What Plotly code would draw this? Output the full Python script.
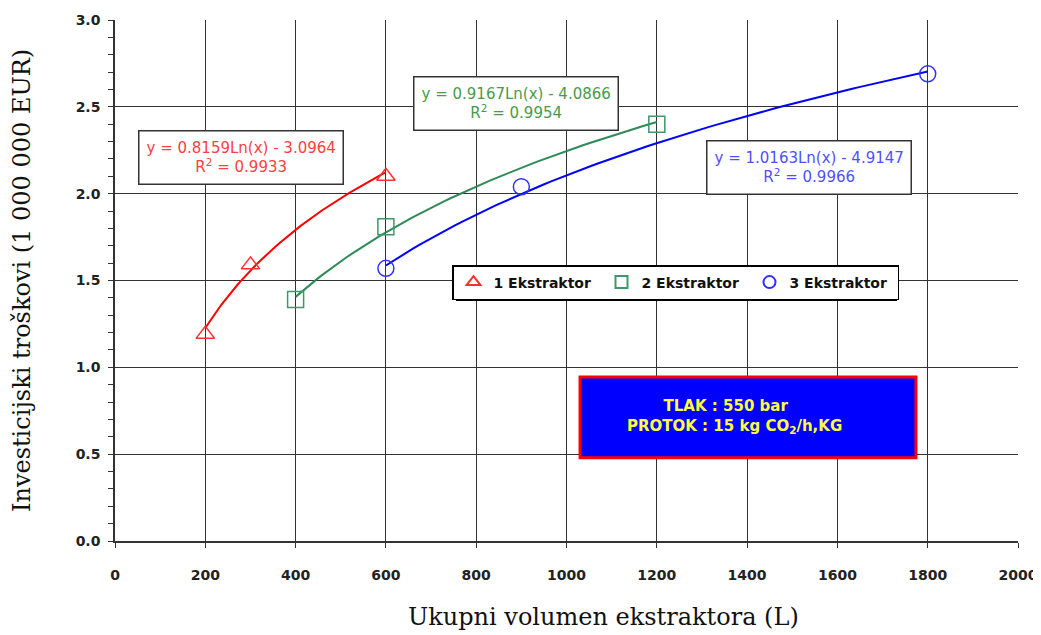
import numpy as np
import plotly.graph_objects as go

# Data
series_names = ["1 Ekstraktor", "2 Ekstraktor", "3 Ekstraktor"]
x1 = [200, 300, 600]
y1 = [1.19, 1.59, 2.10]
x2 = [400, 600, 1200]
y2 = [1.39, 1.81, 2.40]
x3 = [600, 900, 1800]
y3 = [1.57, 2.04, 2.69]

# Logarithmic trendline coefficients (from the chart equations)
trend_a = [0.8159, 0.9167, 1.0163]
trend_b = [-3.0964, -4.0866, -4.9147]
trend_r2 = [0.9933, 0.9954, 0.9966]

x_ticks = [0, 200, 400, 600, 800, 1000, 1200, 1400, 1600, 1800, 2000]
y_ticks = [0.0, 0.5, 1.0, 1.5, 2.0, 2.5, 3.0]

x_title = "Ukupni volumen ekstraktora (L)"
y_title = "Investicijski troškovi (1 000 000 EUR)"

line_colors = ["#ff0000", "#2e8b57", "#0000ff"]
marker_colors = ["#ff3030", "#3a9a6a", "#3030ff"]
text_colors = ["#ff4040", "#4a9a4a", "#5050ff"]
symbols = ["triangle-up-open", "square-open", "circle-open"]

xs = [x1, x2, x3]
ys = [y1, y2, y3]

# page has an 8px body margin; figure is sized so the plot lands where the reference has it
W, H = 1033, 627
L, R, T, B = 107, 23, 12, 94
PW, PH = W - L - R, H - T - B
OFF = 8

def px_to_paper(px, py):
    return (px - OFF - L) / PW, (H - B - (py - OFF)) / PH

fig = go.Figure()

for i in range(3):
    xt = np.linspace(min(xs[i]), max(xs[i]), 80)
    yt = trend_a[i] * np.log(xt) + trend_b[i]
    fig.add_trace(go.Scatter(x=xt, y=yt, mode="lines",
                             line=dict(color=line_colors[i], width=2),
                             showlegend=False, hoverinfo="skip"))

for i in range(3):
    fig.add_trace(go.Scatter(x=xs[i], y=ys[i], mode="markers", name=series_names[i],
                             marker=dict(symbol=symbols[i], size=16, color=marker_colors[i],
                                         line=dict(width=1.5, color=marker_colors[i]))))

def eq_text(a, b, r2):
    return f"y = {a:.4f}Ln(x) - {abs(b):.4f}<br>R<sup>2</sup> = {r2:.4f}"

eq_pos = [(278, 2.21), (889, 2.52), (1536, 2.15)]
for i in range(3):
    fig.add_annotation(x=eq_pos[i][0], y=eq_pos[i][1], xref="x", yref="y",
                       text=eq_text(trend_a[i], trend_b[i], trend_r2[i]),
                       showarrow=False, align="center",
                       font=dict(family="DejaVu Sans", size=15, color=text_colors[i]),
                       bgcolor="white", bordercolor="#333333", borderwidth=1.5, borderpad=7)

# Blue info box
fig.add_shape(type="rect", xref="x", yref="y", x0=1030, x1=1774, y0=0.48, y1=0.945,
              fillcolor="#0000ff", line=dict(color="#ff0000", width=3), layer="above")
fig.add_annotation(x=1373, y=0.715, xref="x", yref="y", showarrow=False, align="left",
                   text="       TLAK : 550 bar<br>PROTOK : 15 kg CO<sub>2</sub>/h,KG",
                   font=dict(family="DejaVu Sans", size=15, color="#ffff40", weight="bold"))

# Legend and its shadow (page pixels)
lx0, ly0, lx1, ly1 = 452, 265, 893, 297
sx0, sy0 = px_to_paper(lx0 + 4, ly1 + 4)
sx1, sy1 = px_to_paper(lx1 + 4, ly0 + 4)
fig.add_shape(type="rect", xref="paper", yref="paper", x0=sx0, x1=sx1, y0=sy0, y1=sy1,
              fillcolor="#000000", line=dict(width=0), layer="above")
legx, legy = px_to_paper(lx0, ly0)

# x-axis title (off-centre in the reference)
tx, ty = px_to_paper(603, 617)
fig.add_annotation(x=tx, y=ty, xref="paper", yref="paper", showarrow=False,
                   xanchor="center", yanchor="middle", text=x_title,
                   font=dict(family="DejaVu Serif", size=24, color="#111111"))

fig.update_layout(
    width=W, height=H,
    margin=dict(l=L, r=R, t=T, b=B),
    paper_bgcolor="white", plot_bgcolor="white",
    showlegend=True,
    legend=dict(orientation="h", x=legx, y=legy,
                xanchor="left", yanchor="top",
                bgcolor="white", bordercolor="#000000", borderwidth=1.5,
                font=dict(family="DejaVu Sans", size=14, color="#111111", weight="bold"),
                entrywidth=103, entrywidthmode="pixels", itemwidth=30, itemsizing="constant",
                tracegroupgap=0),
    xaxis=dict(range=[0, 2000], tickvals=x_ticks, ticktext=[str(v) for v in x_ticks],
               automargin=False,
               showgrid=True, gridcolor="#333333", gridwidth=1,
               zeroline=False, showline=True, linecolor="#333333", linewidth=1.5,
               ticks="outside", ticklen=5, tickcolor="#333333",
               ticklabelstandoff=15,
               tickfont=dict(family="DejaVu Sans", size=14, color="#222222", weight="bold")),
    yaxis=dict(range=[0, 3], tickvals=y_ticks, ticktext=[f"{v:.1f}" for v in y_ticks],
               automargin=False,
               showgrid=True, gridcolor="#333333", gridwidth=1,
               zeroline=False, showline=True, linecolor="#333333", linewidth=1.5,
               ticks="outside", ticklen=5, tickcolor="#333333",
               minor=dict(dtick=0.1, ticks="outside", ticklen=5, tickcolor="#333333", showgrid=False),
               ticklabelstandoff=5,
               tickfont=dict(family="DejaVu Sans", size=14, color="#222222", weight="bold"),
               title=dict(text=y_title, standoff=40,
                          font=dict(family="DejaVu Serif", size=24, color="#111111"))),
    yaxis2=dict(range=[0, 3], overlaying="y", side="left", showgrid=False, zeroline=False,
                automargin=False,
                tickvals=y_ticks, showticklabels=False, ticks="inside", ticklen=5, tickcolor="#333333",
                minor=dict(dtick=0.1, ticks="inside", ticklen=5, tickcolor="#333333", showgrid=False)),
)

fig.write_html("out.html")
